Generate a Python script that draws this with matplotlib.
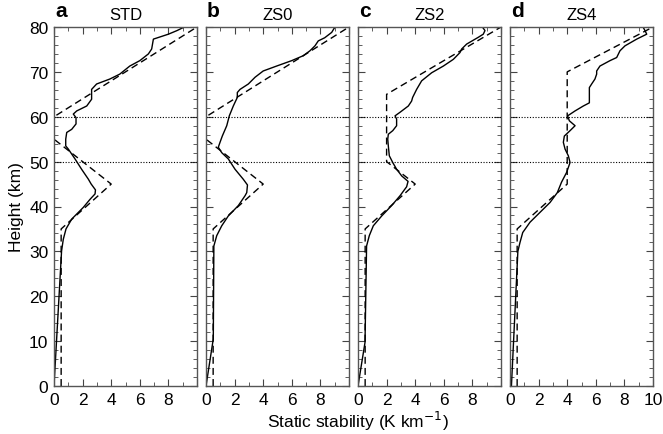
import numpy as np
import matplotlib.pyplot as plt
from matplotlib.ticker import MultipleLocator

plt.rcParams['font.family'] = ['Liberation Sans', 'DejaVu Sans']

# Panel titles and labels
panel_tags = ['a', 'b', 'c', 'd']
panel_titles = ['STD', 'ZS0', 'ZS2', 'ZS4']

# Dashed (prescribed) profiles: static stability (K/km) vs height (km)
std_dash_x = [0.5, 0.5, 4.0, 0.0, 0.0, 10.0]
std_dash_z = [0, 35, 45, 55, 60, 80]
zs0_dash_x = [0.5, 0.5, 4.0, 0.0, 0.0, 10.0]
zs0_dash_z = [0, 35, 45, 55, 60, 80]
zs2_dash_x = [0.5, 0.5, 4.0, 2.0, 2.0, 10.0]
zs2_dash_z = [0, 35, 45, 50, 65, 80]
zs4_dash_x = [0.5, 0.5, 4.0, 4.0, 10.0]
zs4_dash_z = [0, 35, 45, 70, 80]

# Solid (model) profiles
std_x = [0.0, 0.53, 0.65, 0.84, 1.24, 2.05, 2.52, 2.87, 2.9, 2.6, 2.4, 1.93, 1.47, 1.0, 0.82, 0.82,
         0.89, 1.24, 1.54, 1.54, 1.35, 1.59, 2.29, 2.63, 2.63, 2.98, 3.9, 4.6, 5.3, 6.0, 6.6, 6.83,
         6.95, 8.0, 8.6, 9.05]
std_z = [0, 30.1, 32.7, 35.0, 37.2, 39.8, 41.6, 42.8, 43.7, 45.0, 46.1, 48.3, 50.6, 52.8, 53.5, 55.0,
         56.5, 57.2, 58.4, 59.8, 60.6, 61.3, 62.4, 63.9, 66.1, 67.3, 68.4, 69.5, 71.3, 72.5, 74.0, 75.1,
         77.3, 78.4, 79.2, 79.9]
zs0_x = [0.0, 0.51, 0.55, 0.75, 1.1, 1.56, 2.26, 2.73, 2.85, 2.9, 2.6, 2.03, 1.56, 1.1, 0.86, 0.98,
         1.14, 1.45, 1.63, 1.91, 2.19, 2.19, 2.38, 2.96, 3.43, 4.0, 4.94, 5.99, 6.8, 7.27, 7.62, 7.85,
         8.3, 8.79, 9.0]
zs0_z = [0, 10.5, 31.2, 33.5, 35.7, 37.9, 40.2, 42.4, 43.1, 44.8, 46.1, 48.3, 50.6, 52.0, 53.2, 54.3,
         55.7, 58.0, 60.2, 62.4, 64.3, 65.4, 66.1, 67.3, 68.8, 70.2, 71.3, 72.5, 73.6, 74.7, 75.8, 76.9,
         77.6, 78.8, 79.9]
zs2_x = [0.0, 0.49, 0.6, 0.79, 1.07, 1.66, 2.35, 2.94, 3.4, 3.5, 3.06, 2.7, 2.43, 2.19, 2.12, 2.08,
         2.12, 2.43, 2.7, 2.7, 2.59, 2.94, 3.52, 3.75, 3.82, 4.1, 4.45, 5.15, 5.97, 6.67, 7.13, 7.25,
         7.6, 8.41, 8.76, 8.88, 8.72]
zs2_z = [0, 9.7, 31.2, 33.5, 35.7, 37.9, 40.2, 42.4, 44.4, 45.6, 46.8, 48.3, 49.8, 51.3, 53.5, 55.0,
         56.1, 56.9, 58.0, 59.5, 60.2, 61.0, 62.4, 63.5, 64.3, 66.1, 68.0, 69.8, 71.3, 72.8, 74.3, 75.1,
         76.2, 77.7, 78.4, 79.2, 79.9]
zs4_x = [0.1, 0.55, 0.7, 0.89, 1.4, 2.1, 2.8, 3.31, 3.6, 3.96, 4.2, 4.08, 3.85, 3.73, 3.8, 4.2, 4.55,
         4.15, 4.03, 4.55, 5.13, 5.55, 5.55, 5.55, 5.71, 5.94, 6.06, 6.06, 6.29, 6.99, 7.46, 7.69, 8.04,
         8.86, 9.56, 9.44, 9.32]
zs4_z = [0, 30.0, 32.0, 34.2, 36.5, 38.7, 40.9, 43.1, 45.4, 47.6, 49.8, 51.3, 52.8, 54.3, 55.7, 56.9,
         58.0, 59.1, 60.2, 61.3, 62.4, 63.1, 65.0, 66.5, 67.3, 68.4, 69.5, 70.2, 71.3, 72.5, 73.2, 74.7,
         75.8, 77.3, 78.4, 79.2, 79.9]

dash_x = [std_dash_x, zs0_dash_x, zs2_dash_x, zs4_dash_x]
dash_z = [std_dash_z, zs0_dash_z, zs2_dash_z, zs4_dash_z]
solid_x = [std_x, zs0_x, zs2_x, zs4_x]
solid_z = [std_z, zs0_z, zs2_z, zs4_z]

fig = plt.figure(figsize=(6.63, 4.35), dpi=100)

lefts = [54, 206, 358, 510]
for i in range(4):
    ax = fig.add_axes([lefts[i] / 663, 48 / 435, 143 / 663, 359 / 435])
    ax.plot(solid_x[i], solid_z[i], color='black', lw=1.0)
    ax.plot(dash_x[i], dash_z[i], color='black', lw=1.0, ls=(0, (5, 3)))
    ax.axhline(50, color='black', lw=0.8, ls=(0, (1, 1.5)))
    ax.axhline(60, color='black', lw=0.8, ls=(0, (1, 1.5)))
    ax.set_xlim(0, 10)
    ax.set_ylim(0, 80)
    ax.xaxis.set_major_locator(MultipleLocator(2))
    ax.xaxis.set_minor_locator(MultipleLocator(1))
    ax.yaxis.set_major_locator(MultipleLocator(10))
    ax.yaxis.set_minor_locator(MultipleLocator(2))
    ax.tick_params(which='both', direction='in', top=True, right=True, color='#444444',
                   labelsize=12.5, pad=4)
    ax.tick_params(which='major', length=5)
    ax.tick_params(which='minor', length=3)
    for s in ax.spines.values():
        s.set_color('#555555')
        s.set_linewidth(1.0)
    if i < 3:
        ax.set_xticks([0, 2, 4, 6, 8, 10])
        ax.set_xticklabels(['0', '2', '4', '6', '8', ''])
    if i > 0:
        ax.set_yticklabels([])
    else:
        ax.set_ylabel('Height (km)', fontsize=12.5, labelpad=4)
    ax.set_title(panel_titles[i], fontsize=12, pad=6)
    fig.text((lefts[i] + 1) / 663, 1 - 17 / 435, panel_tags[i], fontsize=15,
             fontweight='bold', ha='left', va='baseline')

fig.text(358 / 663, 1 - 421 / 435, 'Static stability (K km$^{-1}$)', ha='center', va='center',
         fontsize=12.5)

plt.savefig('out.png', dpi=100)
